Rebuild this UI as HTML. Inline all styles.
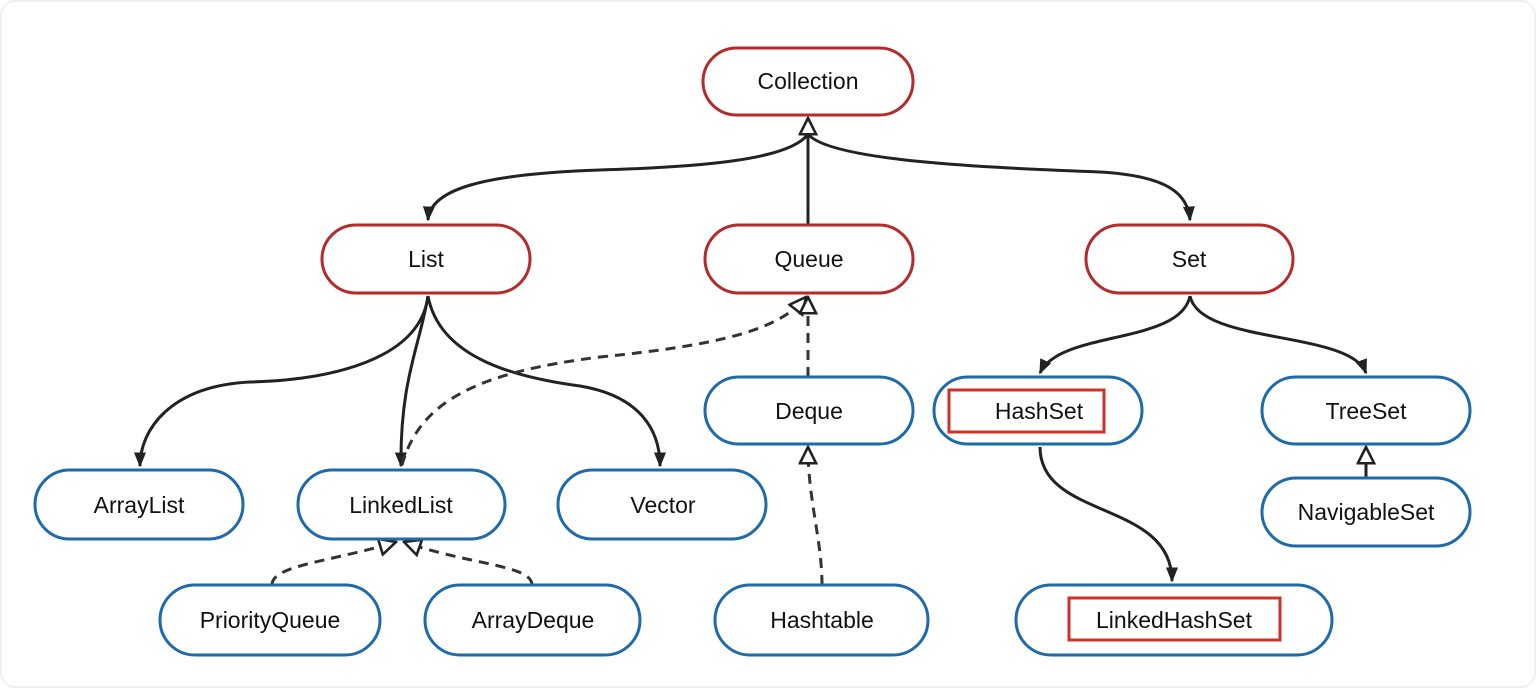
<!DOCTYPE html>
<html><head><meta charset="utf-8"><style>
html,body{margin:0;padding:0;background:#fff}
svg{display:block}
text{font-family:"Liberation Sans","DejaVu Sans",sans-serif;font-size:23px;fill:#111;text-anchor:middle;dominant-baseline:central}
.r{fill:#fff;stroke:#b52a2a;stroke-width:3}
.b{fill:#fff;stroke:#1e6aab;stroke-width:3}
.e{fill:none;stroke:#222;stroke-width:3}
.d{fill:none;stroke:#333;stroke-width:3;stroke-dasharray:10,7}
.hl{fill:none;stroke:#d0302a;stroke-width:3}
</style></head><body>
<svg width="1536" height="688" viewBox="0 0 1536 688" xmlns="http://www.w3.org/2000/svg">
<defs>
<marker id="a" viewBox="0 0 10 10" refX="9" refY="5" markerWidth="5" markerHeight="5" orient="auto"><path d="M0,1 L10,5 L0,9 z" fill="#222"/></marker>
<marker id="h" viewBox="0 0 12 12" refX="11" refY="6" markerWidth="6.5" markerHeight="6.5" orient="auto"><path d="M1,1 L11,6 L1,11 z" fill="#fff" stroke="#222" stroke-width="1.6"/></marker>
</defs>
<rect x="1" y="1" width="1534" height="686" rx="14" fill="#fff" stroke="#f0f0f0" stroke-width="2"/>
<path class="e" d="M808,134 C790,160 700,167 600,170 C480,174 430,190 428,220" marker-end="url(#a)"/>
<path class="e" d="M808,225 L808,118" marker-end="url(#h)"/>
<path class="e" d="M808,134 C830,162 1000,168 1100,172 C1170,176 1188,195 1190,220" marker-end="url(#a)"/>
<path class="e" d="M428,296 C420,360 330,380 250,382 C170,386 140,430 140,466" marker-end="url(#a)"/>
<path class="e" d="M428,296 C420,345 400,380 401,466" marker-end="url(#a)"/>
<path class="e" d="M428,296 C440,360 520,378 580,386 C640,396 660,430 660,466" marker-end="url(#a)"/>
<path class="d" d="M402,465 C420,400 480,372 600,357 C720,345 780,330 806,297" marker-end="url(#h)"/>
<path class="d" d="M808,377 L808,297" marker-end="url(#h)"/>
<path class="d" d="M822,585 C822,540 808,500 808,447" marker-end="url(#h)"/>
<path class="d" d="M272,585 C272,565 330,562 396,542" marker-end="url(#h)"/>
<path class="d" d="M532,585 C532,565 470,565 404,542" marker-end="url(#h)"/>
<path class="e" d="M1190,296 C1180,345 1060,330 1040,373" marker-end="url(#a)"/>
<path class="e" d="M1190,296 C1200,345 1350,330 1366,373" marker-end="url(#a)"/>
<path class="e" d="M1040,447 C1040,520 1172,500 1172,581" marker-end="url(#a)"/>
<path class="e" d="M1366,478 L1366,447" marker-end="url(#h)"/>
<rect class="r" x="703" y="48" width="210" height="67" rx="33.5"/><text x="808" y="81">Collection</text>
<rect class="r" x="322" y="225" width="208" height="68" rx="34"/><text x="426" y="259">List</text>
<rect class="r" x="705" y="225" width="208" height="68" rx="34"/><text x="809" y="259">Queue</text>
<rect class="r" x="1086" y="225" width="207" height="68" rx="34"/><text x="1189" y="259">Set</text>
<rect class="b" x="705" y="377" width="208" height="67" rx="33.5"/><text x="809" y="411">Deque</text>
<rect class="b" x="934" y="377" width="208" height="67" rx="33.5"/><rect class="hl" x="949" y="390" width="155" height="42"/><text x="1039" y="411">HashSet</text>
<rect class="b" x="1262" y="377" width="208" height="67" rx="33.5"/><text x="1366" y="411">TreeSet</text>
<rect class="b" x="35" y="470" width="208" height="69" rx="34.5"/><text x="139" y="505">ArrayList</text>
<rect class="b" x="298" y="470" width="207" height="69" rx="34.5"/><text x="401" y="505">LinkedList</text>
<rect class="b" x="558" y="470" width="208" height="69" rx="34.5"/><text x="663" y="505">Vector</text>
<rect class="b" x="1262" y="478" width="208" height="68" rx="34"/><text x="1366" y="512">NavigableSet</text>
<rect class="b" x="160" y="585" width="220" height="70" rx="35"/><text x="270" y="620">PriorityQueue</text>
<rect class="b" x="425" y="585" width="215" height="70" rx="35"/><text x="533" y="620">ArrayDeque</text>
<rect class="b" x="715" y="585" width="213" height="70" rx="35"/><text x="822" y="620">Hashtable</text>
<rect class="b" x="1016" y="585" width="316" height="70" rx="35"/><rect class="hl" x="1069" y="598" width="211" height="42"/><text x="1174" y="620">LinkedHashSet</text>
</svg>
</body></html>
